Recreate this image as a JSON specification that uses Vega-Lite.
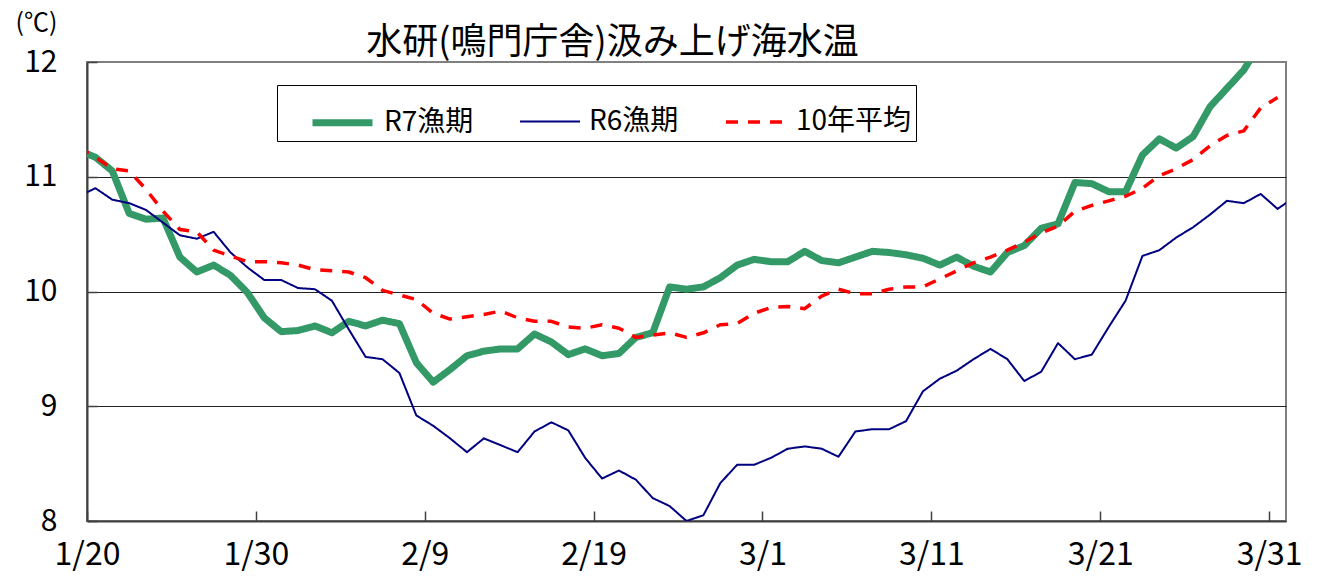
{
  "$schema": "https://vega.github.io/schema/vega-lite/v6.json",
  "width": 1199,
  "height": 459,
  "autosize": {"type": "none"},
  "padding": {"left": 87, "top": 62, "right": 36, "bottom": 59},
  "background": "white",
  "title": {
    "text": "水研(鳴門庁舎)汲み上げ海水温",
    "anchor": "middle",
    "frame": "group",
    "font": "Noto Sans CJK JP",
    "fontSize": 36,
    "fontWeight": "normal",
    "color": "black",
    "offset": 0,
    "dx": -74,
    "dy": 52
  },
  "data": {
    "values": [
      {"d": "2025-01-19", "R7漁期": 11.23, "R6漁期": 10.83, "10年平均": 11.26},
      {"d": "2025-01-20", "R7漁期": 11.17, "R6漁期": 10.90, "10年平均": 11.17},
      {"d": "2025-01-21", "R7漁期": 11.05, "R6漁期": 10.80, "10年平均": 11.07},
      {"d": "2025-01-22", "R7漁期": 10.68, "R6漁期": 10.77, "10年平均": 11.05},
      {"d": "2025-01-23", "R7漁期": 10.63, "R6漁期": 10.71, "10年平均": 10.89},
      {"d": "2025-01-24", "R7漁期": 10.64, "R6漁期": 10.60, "10年平均": 10.70},
      {"d": "2025-01-25", "R7漁期": 10.30, "R6漁期": 10.49, "10年平均": 10.54},
      {"d": "2025-01-26", "R7漁期": 10.17, "R6漁期": 10.46, "10年平均": 10.52},
      {"d": "2025-01-27", "R7漁期": 10.23, "R6漁期": 10.52, "10年平均": 10.36},
      {"d": "2025-01-28", "R7漁期": 10.14, "R6漁期": 10.34, "10年平均": 10.31},
      {"d": "2025-01-29", "R7漁期": 9.99, "R6漁期": 10.21, "10年平均": 10.26},
      {"d": "2025-01-30", "R7漁期": 9.77, "R6漁期": 10.10, "10年平均": 10.26},
      {"d": "2025-01-31", "R7漁期": 9.65, "R6漁期": 10.10, "10年平均": 10.25},
      {"d": "2025-02-01", "R7漁期": 9.66, "R6漁期": 10.03, "10年平均": 10.23},
      {"d": "2025-02-02", "R7漁期": 9.70, "R6漁期": 10.02, "10年平均": 10.19},
      {"d": "2025-02-03", "R7漁期": 9.64, "R6漁期": 9.92, "10年平均": 10.18},
      {"d": "2025-02-04", "R7漁期": 9.74, "R6漁期": 9.67, "10年平均": 10.17},
      {"d": "2025-02-05", "R7漁期": 9.70, "R6漁期": 9.43, "10年平均": 10.12},
      {"d": "2025-02-06", "R7漁期": 9.75, "R6漁期": 9.41, "10年平均": 10.01},
      {"d": "2025-02-07", "R7漁期": 9.72, "R6漁期": 9.29, "10年平均": 9.97},
      {"d": "2025-02-08", "R7漁期": 9.38, "R6漁期": 8.92, "10年平均": 9.93},
      {"d": "2025-02-09", "R7漁期": 9.21, "R6漁期": 8.83, "10年平均": 9.81},
      {"d": "2025-02-10", "R7漁期": 9.32, "R6漁期": 8.72, "10年平均": 9.76},
      {"d": "2025-02-11", "R7漁期": 9.44, "R6漁期": 8.60, "10年平均": 9.78},
      {"d": "2025-02-12", "R7漁期": 9.48, "R6漁期": 8.72, "10年平均": 9.80},
      {"d": "2025-02-13", "R7漁期": 9.50, "R6漁期": 8.66, "10年平均": 9.83},
      {"d": "2025-02-14", "R7漁期": 9.50, "R6漁期": 8.60, "10年平均": 9.77},
      {"d": "2025-02-15", "R7漁期": 9.63, "R6漁期": 8.78, "10年平均": 9.74},
      {"d": "2025-02-16", "R7漁期": 9.56, "R6漁期": 8.86, "10年平均": 9.74},
      {"d": "2025-02-17", "R7漁期": 9.45, "R6漁期": 8.79, "10年平均": 9.69},
      {"d": "2025-02-18", "R7漁期": 9.50, "R6漁期": 8.55, "10年平均": 9.68},
      {"d": "2025-02-19", "R7漁期": 9.44, "R6漁期": 8.37, "10年平均": 9.71},
      {"d": "2025-02-20", "R7漁期": 9.46, "R6漁期": 8.44, "10年平均": 9.68},
      {"d": "2025-02-21", "R7漁期": 9.60, "R6漁期": 8.36, "10年平均": 9.60},
      {"d": "2025-02-22", "R7漁期": 9.64, "R6漁期": 8.20, "10年平均": 9.62},
      {"d": "2025-02-23", "R7漁期": 10.04, "R6漁期": 8.13, "10年平均": 9.64},
      {"d": "2025-02-24", "R7漁期": 10.02, "R6漁期": 8.00, "10年平均": 9.60},
      {"d": "2025-02-25", "R7漁期": 10.04, "R6漁期": 8.05, "10年平均": 9.64},
      {"d": "2025-02-26", "R7漁期": 10.12, "R6漁期": 8.33, "10年平均": 9.71},
      {"d": "2025-02-27", "R7漁期": 10.23, "R6漁期": 8.49, "10年平均": 9.72},
      {"d": "2025-02-28", "R7漁期": 10.28, "R6漁期": 8.49, "10年平均": 9.81},
      {"d": "2025-03-01", "R7漁期": 10.26, "R6漁期": 8.55, "10年平均": 9.86},
      {"d": "2025-03-02", "R7漁期": 10.26, "R6漁期": 8.63, "10年平均": 9.87},
      {"d": "2025-03-03", "R7漁期": 10.35, "R6漁期": 8.65, "10年平均": 9.85},
      {"d": "2025-03-04", "R7漁期": 10.27, "R6漁期": 8.63, "10年平均": 9.96},
      {"d": "2025-03-05", "R7漁期": 10.25, "R6漁期": 8.56, "10年平均": 10.02},
      {"d": "2025-03-06", "R7漁期": 10.30, "R6漁期": 8.78, "10年平均": 9.98},
      {"d": "2025-03-07", "R7漁期": 10.35, "R6漁期": 8.80, "10年平均": 9.98},
      {"d": "2025-03-08", "R7漁期": 10.34, "R6漁期": 8.80, "10年平均": 10.02},
      {"d": "2025-03-09", "R7漁期": 10.32, "R6漁期": 8.87, "10年平均": 10.04},
      {"d": "2025-03-10", "R7漁期": 10.29, "R6漁期": 9.13, "10年平均": 10.04},
      {"d": "2025-03-11", "R7漁期": 10.23, "R6漁期": 9.24, "10年平均": 10.11},
      {"d": "2025-03-12", "R7漁期": 10.30, "R6漁期": 9.31, "10年平均": 10.18},
      {"d": "2025-03-13", "R7漁期": 10.22, "R6漁期": 9.41, "10年平均": 10.25},
      {"d": "2025-03-14", "R7漁期": 10.17, "R6漁期": 9.50, "10年平均": 10.30},
      {"d": "2025-03-15", "R7漁期": 10.34, "R6漁期": 9.41, "10年平均": 10.36},
      {"d": "2025-03-16", "R7漁期": 10.40, "R6漁期": 9.22, "10年平均": 10.43},
      {"d": "2025-03-17", "R7漁期": 10.55, "R6漁期": 9.30, "10年平均": 10.51},
      {"d": "2025-03-18", "R7漁期": 10.59, "R6漁期": 9.55, "10年平均": 10.57},
      {"d": "2025-03-19", "R7漁期": 10.95, "R6漁期": 9.41, "10年平均": 10.70},
      {"d": "2025-03-20", "R7漁期": 10.94, "R6漁期": 9.45, "10年平均": 10.75},
      {"d": "2025-03-21", "R7漁期": 10.87, "R6漁期": 9.69, "10年平均": 10.79},
      {"d": "2025-03-22", "R7漁期": 10.87, "R6漁期": 9.92, "10年平均": 10.83},
      {"d": "2025-03-23", "R7漁期": 11.19, "R6漁期": 10.31, "10年平均": 10.90},
      {"d": "2025-03-24", "R7漁期": 11.33, "R6漁期": 10.36, "10年平均": 11.01},
      {"d": "2025-03-25", "R7漁期": 11.25, "R6漁期": 10.47, "10年平均": 11.07},
      {"d": "2025-03-26", "R7漁期": 11.35, "R6漁期": 10.56, "10年平均": 11.15},
      {"d": "2025-03-27", "R7漁期": 11.61, "R6漁期": 10.67, "10年平均": 11.27},
      {"d": "2025-03-28", "R7漁期": 11.77, "R6漁期": 10.79, "10年平均": 11.36},
      {"d": "2025-03-29", "R7漁期": 11.93, "R6漁期": 10.77, "10年平均": 11.40},
      {"d": "2025-03-30", "R7漁期": 12.17, "R6漁期": 10.85, "10年平均": 11.60},
      {"d": "2025-03-31", "R7漁期": 12.30, "R6漁期": 10.72, "10年平均": 11.69},
      {"d": "2025-04-01", "R6漁期": 10.82}
    ]
  },
  "transform": [
    {"fold": ["R7漁期", "R6漁期", "10年平均"], "as": ["series", "temp"]}
  ],
  "mark": {"type": "line", "clip": true, "strokeJoin": "round"},
  "encoding": {
    "x": {
      "field": "d",
      "type": "temporal",
      "timeUnit": "utcyearmonthdate",
      "bandPosition": 0.5,
      "scale": {
        "type": "utc",
        "domain": [
          {"year": 2025, "month": 1, "date": 20, "utc": true},
          {"year": 2025, "month": 4, "date": 1, "utc": true}
        ]
      },
      "axis": {
        "title": null,
        "values": [
          {"year": 2025, "month": 1, "date": 20, "utc": true},
          {"year": 2025, "month": 1, "date": 30, "utc": true},
          {"year": 2025, "month": 2, "date": 9, "utc": true},
          {"year": 2025, "month": 2, "date": 19, "utc": true},
          {"year": 2025, "month": 3, "date": 1, "utc": true},
          {"year": 2025, "month": 3, "date": 11, "utc": true},
          {"year": 2025, "month": 3, "date": 21, "utc": true},
          {"year": 2025, "month": 3, "date": 31, "utc": true}
        ],
        "labelExpr": "utcFormat(datum.value, '%-m/%-d')",
        "grid": false,
        "labelFont": "Noto Sans CJK JP",
        "labelFontSize": 32,
        "labelColor": "black",
        "labelPadding": 28,
        "labelFlush": false,
        "labelOverlap": false,
        "tickSize": -10,
        "tickColor": "#404040",
        "tickWidth": 1.5,
        "domainColor": "#404040",
        "domainWidth": 2
      }
    },
    "y": {
      "field": "temp",
      "type": "quantitative",
      "scale": {"domain": [8, 12], "nice": false, "zero": false},
      "axis": {
        "values": [8, 9, 10, 11, 12],
        "format": "d",
        "grid": true,
        "gridColor": {"condition": {"test": "datum.value == 12 || datum.value == 8", "value": "transparent"}, "value": "#222222"},
        "gridWidth": 1.2,
        "labelFont": "Noto Sans CJK JP",
        "labelFontSize": 30,
        "labelColor": "black",
        "labelPadding": 40,
        "tickSize": -10,
        "tickColor": "#404040",
        "tickWidth": 1.5,
        "domainColor": "#404040",
        "domainWidth": 2,
        "title": "(℃)",
        "titleAngle": 0,
        "titleX": -51,
        "titleY": -32,
        "titleAlign": "center",
        "titleBaseline": "alphabetic",
        "titleFont": "Noto Sans CJK JP",
        "titleFontSize": 25,
        "titleFontWeight": "normal",
        "titleColor": "black"
      }
    },
    "color": {
      "field": "series",
      "type": "nominal",
      "scale": {"domain": ["R7漁期", "R6漁期", "10年平均"], "range": ["#339966", "#000080", "#FF0000"]},
      "legend": {"title": null}
    },
    "strokeWidth": {
      "field": "series",
      "type": "nominal",
      "scale": {"type": "ordinal", "domain": ["R7漁期", "R6漁期", "10年平均"], "range": [7, 2, 3.5]},
      "legend": {"title": null}
    },
    "strokeDash": {
      "field": "series",
      "type": "nominal",
      "scale": {"type": "ordinal", "domain": ["R7漁期", "R6漁期", "10年平均"], "range": [[1, 0], [1, 0], [12, 10]]},
      "legend": {"title": null}
    }
  },
  "config": {
    "view": {"stroke": "#808080", "strokeWidth": 2},
    "legend": {
      "orient": "none",
      "legendX": 190,
      "legendY": 23,
      "direction": "horizontal",
      "symbolType": "stroke",
      "symbolSize": 3600,
      "symbolOffset": 28,
      "labelFont": "Noto Sans CJK JP",
      "labelFontSize": 28,
      "labelColor": "black",
      "labelOffset": 8,
      "labelLimit": 300,
      "columnPadding": 17,
      "padding": 4,
      "strokeColor": "black",
      "fillColor": "white"
    }
  }
}
